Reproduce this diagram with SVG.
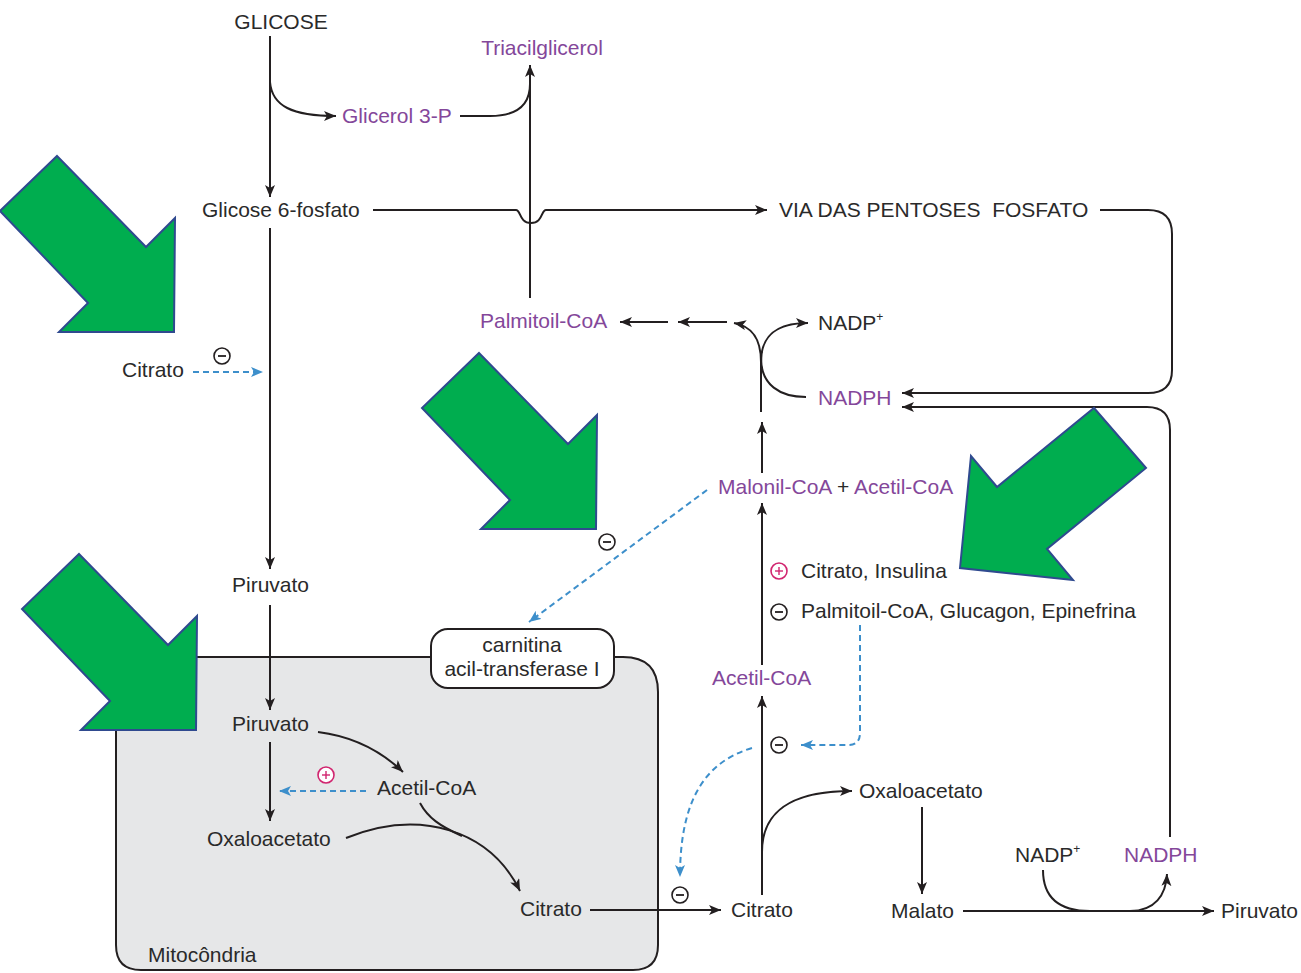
<svg xmlns="http://www.w3.org/2000/svg" width="1301" height="973" viewBox="0 0 1301 973">
<style>
text{font-family:"Liberation Sans",Arial,sans-serif;font-size:21px;fill:#2a2a2a}
.p{fill:#84479a}
.ln{fill:none;stroke:#231f20;stroke-width:2}
.dash{fill:none;stroke:#3d8fcb;stroke-width:2;stroke-dasharray:6,4}
.neg{fill:#fff;stroke:#231f20;stroke-width:1.6}
.pos{fill:#fff;stroke:#d1256f;stroke-width:1.6}
.negl{stroke:#231f20;stroke-width:1.8}
.posl{stroke:#d1256f;stroke-width:1.4}
.green{fill:#00ad4f;stroke:#2f4a8f;stroke-width:2;stroke-linejoin:miter}
</style>
<defs>
<marker id="ah" markerUnits="userSpaceOnUse" markerWidth="14" markerHeight="11" refX="12" refY="5" orient="auto">
<path d="M0,0 L12,5 L0,10 L3,5 z" fill="#231f20"/>
</marker>
<marker id="ab" markerUnits="userSpaceOnUse" markerWidth="14" markerHeight="11" refX="12" refY="5" orient="auto">
<path d="M0,0 L12,5 L0,10 L3,5 z" fill="#3d8fcb"/>
</marker>
</defs>
<rect width="1301" height="973" fill="#fff"/>

<g id="mitocondria">
<path d="M431,657 L140,657 Q116,657 116,681 L116,945 Q116,970 141,970 L633,970 Q658,970 658,945 L658,692 Q658,657 623,657 L613,657" fill="#e6e7e8" stroke="#231f20" stroke-width="2"/>
<text x="148" y="962">Mitocôndria</text>
</g>
<g id="carnitina">
<rect x="431" y="629" width="183" height="59" rx="17" fill="#fff" stroke="#231f20" stroke-width="2"/>
<text x="522" y="652" text-anchor="middle">carnitina</text>
<text x="522" y="676" text-anchor="middle">acil-transferase I</text>
</g>

<g id="connectors">
<path class="ln" d="M270,36 L270,197" marker-end="url(#ah)"/>
<path class="ln" d="M270,82 C272,106 292,116 336,116" marker-end="url(#ah)"/>
<path class="ln" d="M460,116 L490,116 C518,116 530,104 530,84"/>
<path class="ln" d="M530,298 L530,65" marker-end="url(#ah)"/>
<path class="ln" d="M373,210 L516,210 C521,210 519,223 531,223 C543,223 541,210 546,210 L767,210" marker-end="url(#ah)"/>
<path class="ln" d="M1100,210 L1148,210 Q1172,210 1172,234 L1172,370 Q1172,393 1148,393 L902,393" marker-end="url(#ah)"/>
<path class="ln" d="M1170,837 L1170,430 Q1170,407 1147,407 L902,407" marker-end="url(#ah)"/>
<path class="ln" d="M270,228 L270,569" marker-end="url(#ah)"/>
<path class="dash" d="M193,372 L263,372" marker-end="url(#ab)"/>
<path class="ln" d="M270,605 L270,710" marker-end="url(#ah)"/>
<path class="ln" d="M668,322 L620,322" marker-end="url(#ah)"/>
<path class="ln" d="M727,322 L678,322" marker-end="url(#ah)"/>
<path class="ln" d="M761,412 L761,352"/>
<path class="ln" d="M761,362 C761,336 750,326 734,323" marker-end="url(#ah)"/>
<path class="ln" d="M761,362 C761,334 778,323 808,323" marker-end="url(#ah)"/>
<path class="ln" d="M806,397 C780,397 761,385 761,358"/>
<path class="ln" d="M762,473 L762,422" marker-end="url(#ah)"/>
<path class="dash" d="M707,490 L529,622" marker-end="url(#ab)"/>
<path class="ln" d="M762,665 L762,503" marker-end="url(#ah)"/>
<path class="ln" d="M762,895 L762,696" marker-end="url(#ah)"/>
<path class="ln" d="M762,852 C762,812 790,791 852,791" marker-end="url(#ah)"/>
<path class="ln" d="M922,807 L922,894" marker-end="url(#ah)"/>
<path class="ln" d="M963,911 L1214,911" marker-end="url(#ah)"/>
<path class="ln" d="M1043,870 C1043,898 1060,911 1090,911 L1130,911 C1155,911 1166,895 1167,874" marker-end="url(#ah)"/>
<path class="dash" d="M860,625 L860,733 Q860,745 848,745 L801,745" marker-end="url(#ab)"/>
<path class="dash" d="M752,748 C705,762 680,800 680,877" marker-end="url(#ab)"/>
<path class="ln" d="M590,910 L721,910" marker-end="url(#ah)"/>
<path class="ln" d="M270,742 L270,821" marker-end="url(#ah)"/>
<path class="ln" d="M318,732 C350,736 380,750 403,772" marker-end="url(#ah)"/>
<path class="dash" d="M366,791 L279,791" marker-end="url(#ab)"/>
<path class="ln" d="M346,838 C420,808 490,830 520,891" marker-end="url(#ah)"/>
<path class="ln" d="M420,803 C428,818 440,826 462,836"/>
</g>

<g id="regulators">
<circle class="neg" cx="222" cy="356" r="8"/><line class="negl" x1="218" y1="356" x2="226" y2="356"/>
<circle class="neg" cx="607" cy="542" r="8"/><line class="negl" x1="603" y1="542" x2="611" y2="542"/>
<circle class="neg" cx="779" cy="612" r="8"/><line class="negl" x1="775" y1="612" x2="783" y2="612"/>
<circle class="neg" cx="779" cy="745" r="8"/><line class="negl" x1="775" y1="745" x2="783" y2="745"/>
<circle class="neg" cx="680" cy="895" r="8"/><line class="negl" x1="676" y1="895" x2="684" y2="895"/>
<circle class="pos" cx="326" cy="775" r="8"/><line class="posl" x1="322" y1="775" x2="330" y2="775"/><line class="posl" x1="326" y1="771" x2="326" y2="779"/>
<circle class="pos" cx="779" cy="571" r="8"/><line class="posl" x1="775" y1="571" x2="783" y2="571"/><line class="posl" x1="779" y1="567" x2="779" y2="575"/>
</g>

<g id="glicose"><text x="281" y="29" text-anchor="middle">GLICOSE</text></g>
<g id="triacilglicerol"><text class="p" x="542" y="55" text-anchor="middle">Triacilglicerol</text></g>
<g id="glicerol3p"><text class="p" x="342" y="123">Glicerol 3-P</text></g>
<g id="glicose6p"><text x="202" y="217">Glicose 6-fosfato</text></g>
<g id="pentoses"><text x="779" y="217" style="white-space:pre">VIA DAS PENTOSES  FOSFATO</text></g>
<g id="palmitoil"><text class="p" x="480" y="328">Palmitoil-CoA</text></g>
<g id="nadp1"><text x="818" y="330">NADP<tspan font-size="12" dy="-9">+</tspan></text></g>
<g id="nadph1"><text class="p" x="818" y="405">NADPH</text></g>
<g id="citrato-cyt1"><text x="122" y="377">Citrato</text></g>
<g id="malonil"><text x="718" y="494"><tspan class="p">Malonil-CoA</tspan> + <tspan class="p">Acetil-CoA</tspan></text></g>
<g id="ativadores"><text x="801" y="578">Citrato, Insulina</text></g>
<g id="inibidores"><text x="801" y="618">Palmitoil-CoA, Glucagon, Epinefrina</text></g>
<g id="piruvato1"><text x="232" y="592">Piruvato</text></g>
<g id="piruvato2"><text x="232" y="731">Piruvato</text></g>
<g id="acetilcoa-mit"><text x="377" y="795">Acetil-CoA</text></g>
<g id="oxalo-mit"><text x="207" y="846">Oxaloacetato</text></g>
<g id="citrato-mit"><text x="520" y="916">Citrato</text></g>
<g id="acetilcoa-cyt"><text class="p" x="712" y="685">Acetil-CoA</text></g>
<g id="citrato-cyt2"><text x="731" y="917">Citrato</text></g>
<g id="oxalo-cyt"><text x="859" y="798">Oxaloacetato</text></g>
<g id="malato"><text x="891" y="918">Malato</text></g>
<g id="piruvato3"><text x="1221" y="918">Piruvato</text></g>
<g id="nadp2"><text x="1015" y="862">NADP<tspan font-size="12" dy="-9">+</tspan></text></g>
<g id="nadph2"><text class="p" x="1124" y="862">NADPH</text></g>

<g id="green-arrows">
<polygon class="green" points="57,156 146,247 175,218 174,332 59,332 88,303 0,211"/>
<polygon class="green" points="479,353 568,444 597,415 596,529 481,529 510,500 422,408"/>
<polygon class="green" points="79,554 168,645 197,616 196,730 81,730 110,701 22,609"/>
<polygon class="green" points="1094,408 1146,468 1047,549 1073,580 960,568 971,456 997,487"/>
</g>
</svg>
